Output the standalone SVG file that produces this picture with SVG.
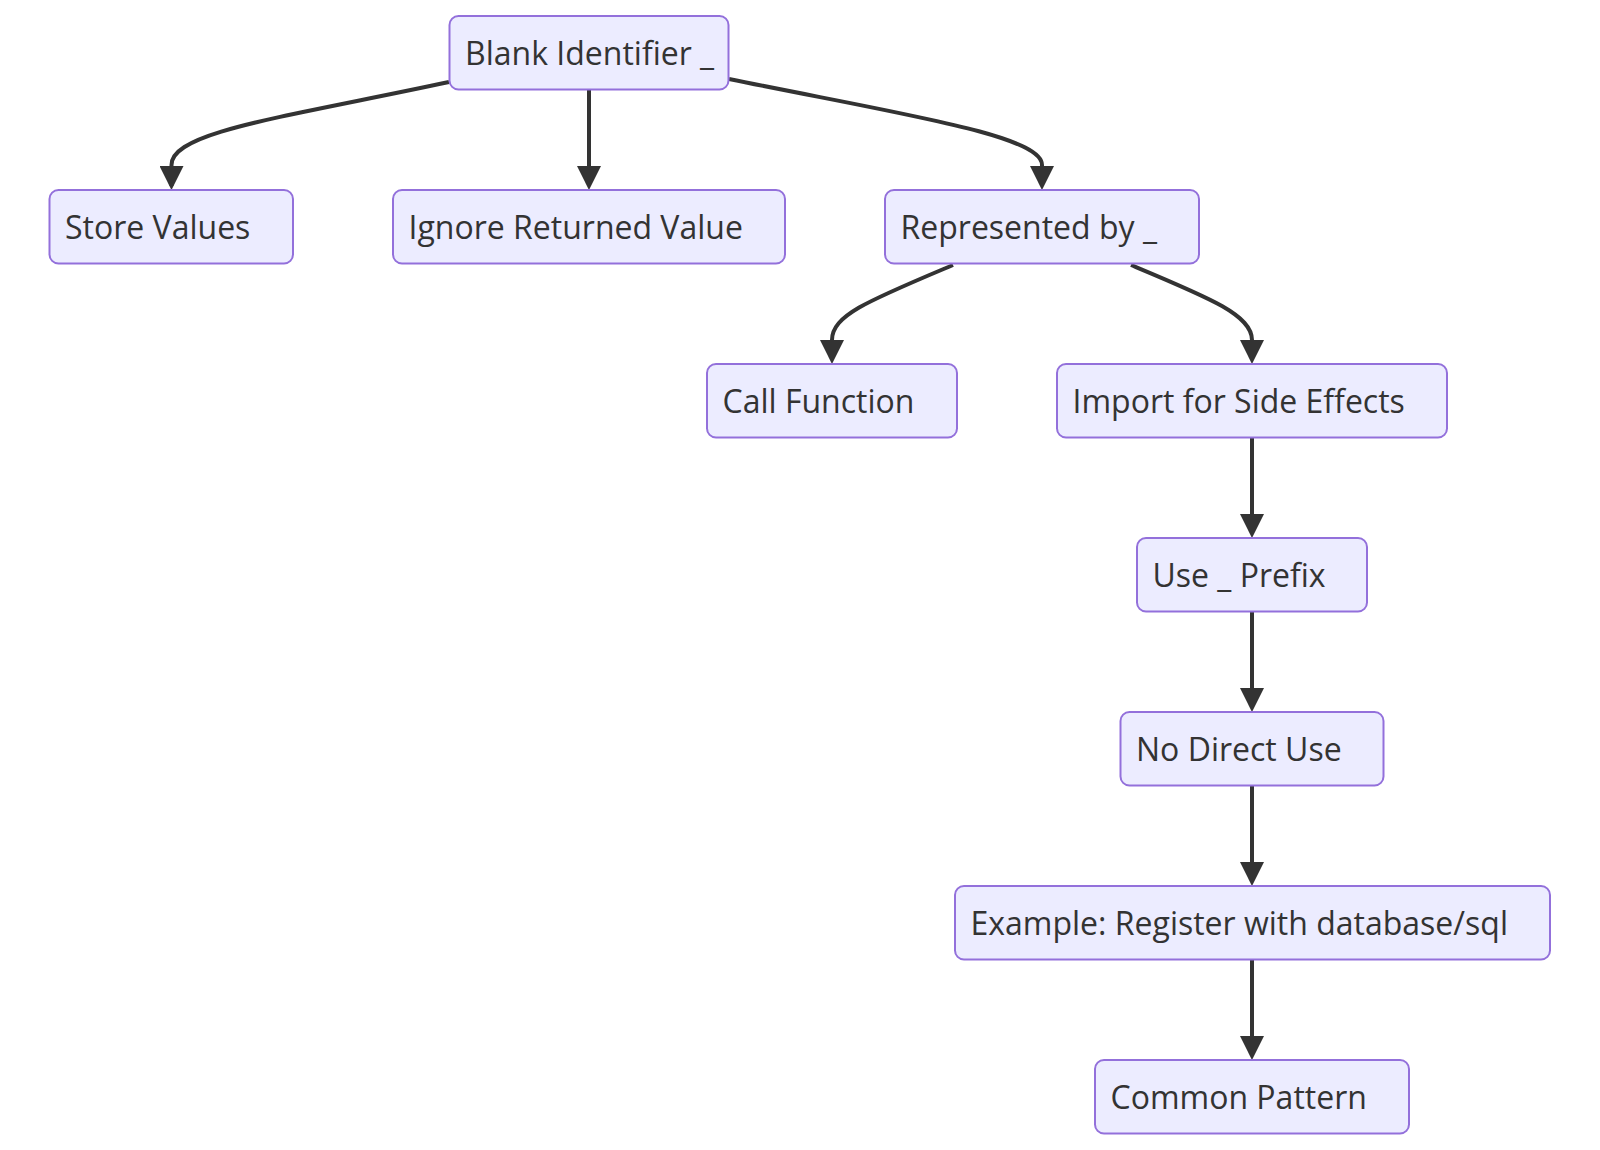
<svg xmlns="http://www.w3.org/2000/svg" width="1600" height="1150" viewBox="0 0 1600 1150">
<style>
.node rect{fill:#ECECFF;stroke:#9370DB;stroke-width:2}
.node text{font-family:"Open Sans","Noto Sans","DejaVu Sans",sans-serif;font-size:32px;fill:#333333}
.edge{fill:none;stroke:#333333;stroke-width:4}
</style>
<defs>
<marker id="arrow" viewBox="0 0 10 10" refX="8.3" refY="5" markerUnits="userSpaceOnUse" markerWidth="24" markerHeight="24" orient="auto">
<path d="M0,0 L10,5 L0,10 z" fill="#333333"/>
</marker>
</defs>
<rect width="1600" height="1150" fill="#ffffff"/>
<g id="connectors">
<path class="edge" marker-end="url(#arrow)" d="M449,82 C280,118 171.5,132 171.5,165 L171.5,186"/>
<path class="edge" marker-end="url(#arrow)" d="M589,90 L589,186"/>
<path class="edge" marker-end="url(#arrow)" d="M729,79 C900,114 1042,135 1042,165 L1042,186"/>
<path class="edge" marker-end="url(#arrow)" d="M953,265 C870,300 832,315 832,340 L832,360"/>
<path class="edge" marker-end="url(#arrow)" d="M1131,265 C1210,298 1252,315 1252,340 L1252,360"/>
<path class="edge" marker-end="url(#arrow)" d="M1252,438 L1252,534"/>
<path class="edge" marker-end="url(#arrow)" d="M1252,611.5 L1252,708"/>
<path class="edge" marker-end="url(#arrow)" d="M1252,785.5 L1252,882"/>
<path class="edge" marker-end="url(#arrow)" d="M1252,959.5 L1252,1056"/>
</g>
<g id="n-blank" class="node"><rect x="449.5" y="16" width="279" height="73.5" rx="9"/><text x="465" y="65">Blank Identifier _</text></g>
<g id="n-store" class="node"><rect x="49.5" y="190" width="243.5" height="73.5" rx="9"/><text x="65" y="239">Store Values</text></g>
<g id="n-ignore" class="node"><rect x="393" y="190" width="392" height="73.5" rx="9"/><text x="408.5" y="239">Ignore Returned Value</text></g>
<g id="n-repr" class="node"><rect x="885" y="190" width="314" height="73.5" rx="9"/><text x="900.5" y="239">Represented by _</text></g>
<g id="n-call" class="node"><rect x="707" y="364" width="250" height="73.5" rx="9"/><text x="722.5" y="413">Call Function</text></g>
<g id="n-import" class="node"><rect x="1057" y="364" width="390" height="73.5" rx="9"/><text x="1072.5" y="413">Import for Side Effects</text></g>
<g id="n-use" class="node"><rect x="1137" y="538" width="230" height="73.5" rx="9"/><text x="1152.5" y="587">Use _ Prefix</text></g>
<g id="n-nodirect" class="node"><rect x="1120.5" y="712" width="263" height="73.5" rx="9"/><text x="1136" y="761">No Direct Use</text></g>
<g id="n-example" class="node"><rect x="955" y="886" width="595" height="73.5" rx="9"/><text x="970.5" y="935">Example: Register with database/sql</text></g>
<g id="n-common" class="node"><rect x="1095" y="1060" width="314" height="73.5" rx="9"/><text x="1110.5" y="1109">Common Pattern</text></g>
</svg>
